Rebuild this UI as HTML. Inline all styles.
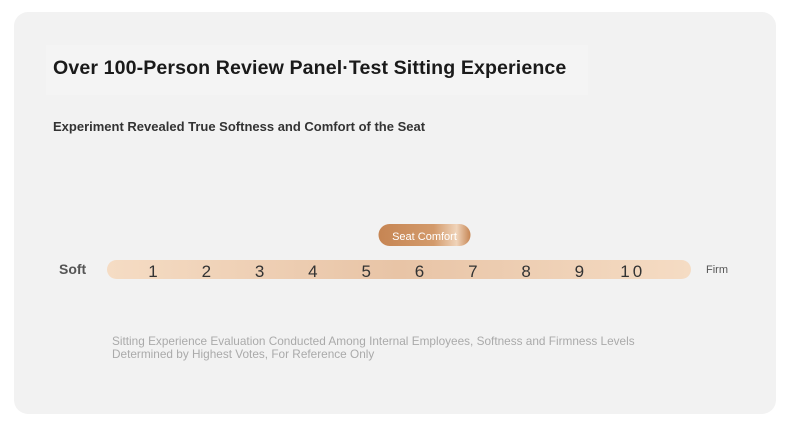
<!DOCTYPE html>
<html><head><meta charset="utf-8"><style>
body{margin:0;width:790px;height:439px;background:#fff;font-family:"Liberation Sans",sans-serif;overflow:hidden}
.card{position:absolute;left:14px;top:12px;width:762px;height:402px;border-radius:14px;background:#f2f2f2}
</style></head><body>
<div class="card"></div>
<div style="position:absolute;left:46px;top:45px;width:542px;height:50px;background:#f4f4f4"></div>
<div style="position:absolute;left:53px;top:57px;font-size:19.6px;font-weight:bold;color:#1a1a1a;letter-spacing:0.1px">Over 100-Person Review Panel·Test Sitting Experience</div>
<div style="position:absolute;left:53px;top:119px;font-size:13px;font-weight:bold;color:#333">Experiment Revealed True Softness and Comfort of the Seat</div>
<svg id="chart" width="790" height="439" style="position:absolute;left:0;top:0">
<defs>
<linearGradient id="g" x1="0" x2="1"><stop offset="0" stop-color="#f5dcc4"/><stop offset="0.5" stop-color="#e8c4a6"/><stop offset="1" stop-color="#f5dcc4"/></linearGradient>
<linearGradient id="m" x1="0" x2="1"><stop offset="0" stop-color="#c68553"/><stop offset="0.6" stop-color="#d39a6b"/><stop offset="0.85" stop-color="#f0d4ba"/><stop offset="1" stop-color="#c68553"/></linearGradient>
</defs>
<text x="59" y="274" font-size="14" fill="#555" font-weight="bold">Soft</text>
<text x="706" y="273" font-size="11" fill="#555">Firm</text>
<rect x="107" y="260" width="584" height="19" rx="9.5" fill="url(#g)"/>
<g id="ticks"></g><g id="marker"></g>
<text x="112" y="345" font-size="11.8" fill="#aaa">Sitting Experience Evaluation Conducted Among Internal Employees, Softness and Firmness Levels</text>
<text x="112" y="358" font-size="11.8" fill="#aaa">Determined by Highest Votes, For Reference Only</text>
</svg>
<script>
const levels=[1,2,3,4,5,6,7,8,9,10];
const selectedValue=[6];
const markerLabel=["Seat Comfort"];
const x=v=>153+(v-1)*53.3;
const ns="http://www.w3.org/2000/svg";
const tg=document.getElementById('ticks');
levels.forEach(v=>{const t=document.createElementNS(ns,'text');
t.setAttribute('x',x(v));t.setAttribute('y',277);t.setAttribute('text-anchor','middle');
t.setAttribute('font-size','17');t.setAttribute('fill','#333');t.setAttribute('letter-spacing',v>9?'3':'0');t.textContent=v;


tg.appendChild(t);});
const mg=document.getElementById('marker');
const cx=x(selectedValue[0])+5;
const r=document.createElementNS(ns,'rect');
r.setAttribute('x',cx-46);r.setAttribute('y',224);r.setAttribute('width',92);r.setAttribute('height',22);r.setAttribute('rx',11);r.setAttribute('fill','url(#m)');


mg.appendChild(r);
const l=document.createElementNS(ns,'text');
l.setAttribute('x',cx);l.setAttribute('y',240);l.setAttribute('text-anchor','middle');l.setAttribute('font-size','11');l.setAttribute('fill','#fff');l.textContent=markerLabel[0];


mg.appendChild(l);
</script>
</body></html>
